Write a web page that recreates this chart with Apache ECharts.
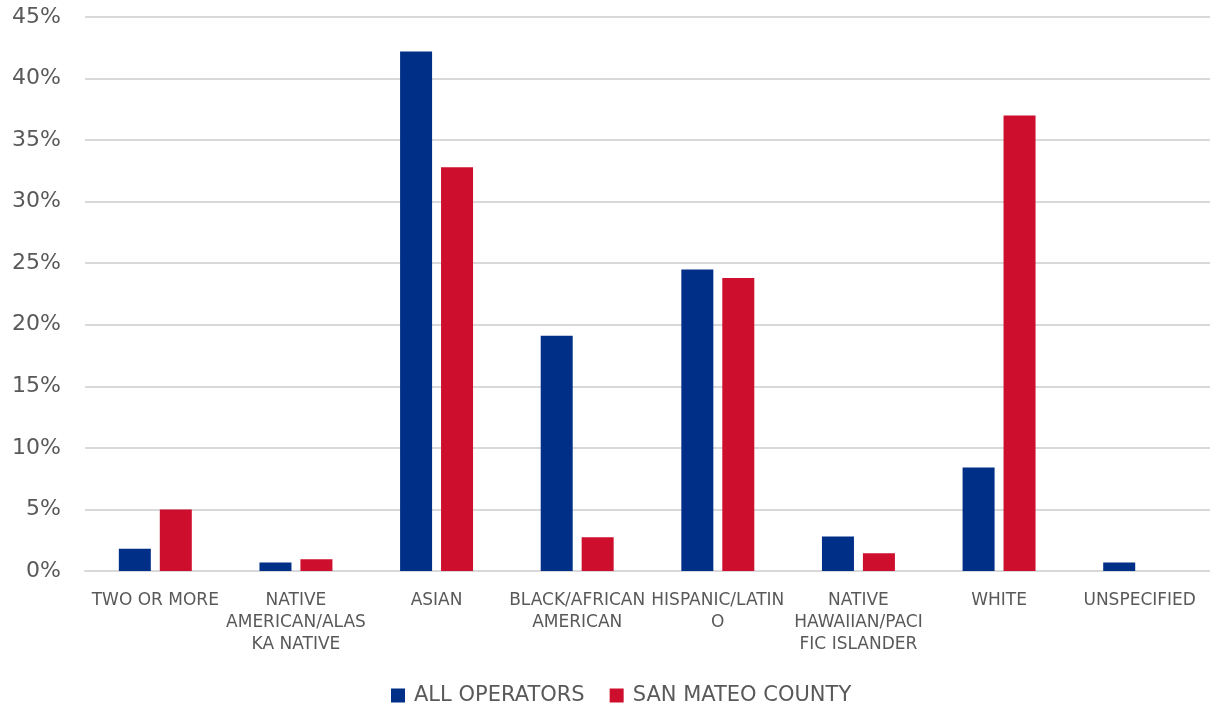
<!DOCTYPE html>
<html>
<head>
<meta charset="utf-8">
<script src="https://cdn.jsdelivr.net/npm/echarts@6/dist/echarts.min.js"></script>
<style>
  html, body { margin: 0; padding: 0; background: #fff; }
  #chart { width: 1210px; height: 706px; }
</style>
</head>
<body>
<div id="chart"></div>
<script>
// categories (wrapped like the original)
const categories = [
  "TWO OR MORE",
  "NATIVE\nAMERICAN/ALAS\nKA NATIVE",
  "ASIAN",
  "BLACK/AFRICAN\nAMERICAN",
  "HISPANIC/LATIN\nO",
  "NATIVE\nHAWAIIAN/PACI\nFIC ISLANDER",
  "WHITE",
  "UNSPECIFIED"
];
// percentages
const allOperators = [1.8, 0.7, 42.2, 19.1, 24.5, 2.8, 8.4, 0.7];
const sanMateo = [5.0, 0.95, 32.8, 2.75, 23.8, 1.45, 37.0, 0];

const FONT = "DejaVu Sans";
const TEXT = "#595959";

const chart = echarts.init(document.getElementById("chart"));
chart.setOption({
  animation: false,
  textStyle: { fontFamily: FONT },
  legend: {
    top: 680,
    left: 386,
    itemWidth: 14,
    itemHeight: 14,
    itemGap: 25,
    icon: "rect",
    textStyle: { color: TEXT, fontSize: 21, fontFamily: FONT, padding: [0, 0, 0, 4] }
  },
  grid: { left: 85, right: 0, top: 17, bottom: 135, containLabel: false },
  xAxis: {
    type: "category",
    data: categories,
    axisLine: { lineStyle: { color: "#d9d9d9", width: 2 } },
    axisTick: { show: false },
    axisLabel: {
      color: TEXT,
      fontSize: 17,
      fontFamily: FONT,
      lineHeight: 22,
      margin: 19,
      interval: 0
    }
  },
  yAxis: {
    type: "value",
    min: 0,
    max: 45,
    interval: 5,
    axisLine: { show: false },
    axisTick: { show: false },
    splitLine: { lineStyle: { color: "#d9d9d9", width: 2 } },
    axisLabel: {
      color: TEXT,
      fontSize: 22,
      fontFamily: FONT,
      margin: 24,
      formatter: "{value}%"
    }
  },
  series: [
    {
      name: "ALL OPERATORS",
      type: "bar",
      data: allOperators,
      barWidth: 32,
      barGap: "28%",
      itemStyle: { color: "#002F87" }
    },
    {
      name: "SAN MATEO COUNTY",
      type: "bar",
      data: sanMateo,
      barWidth: 32,
      itemStyle: { color: "#CE0E2D" }
    }
  ]
});
</script>
</body>
</html>
